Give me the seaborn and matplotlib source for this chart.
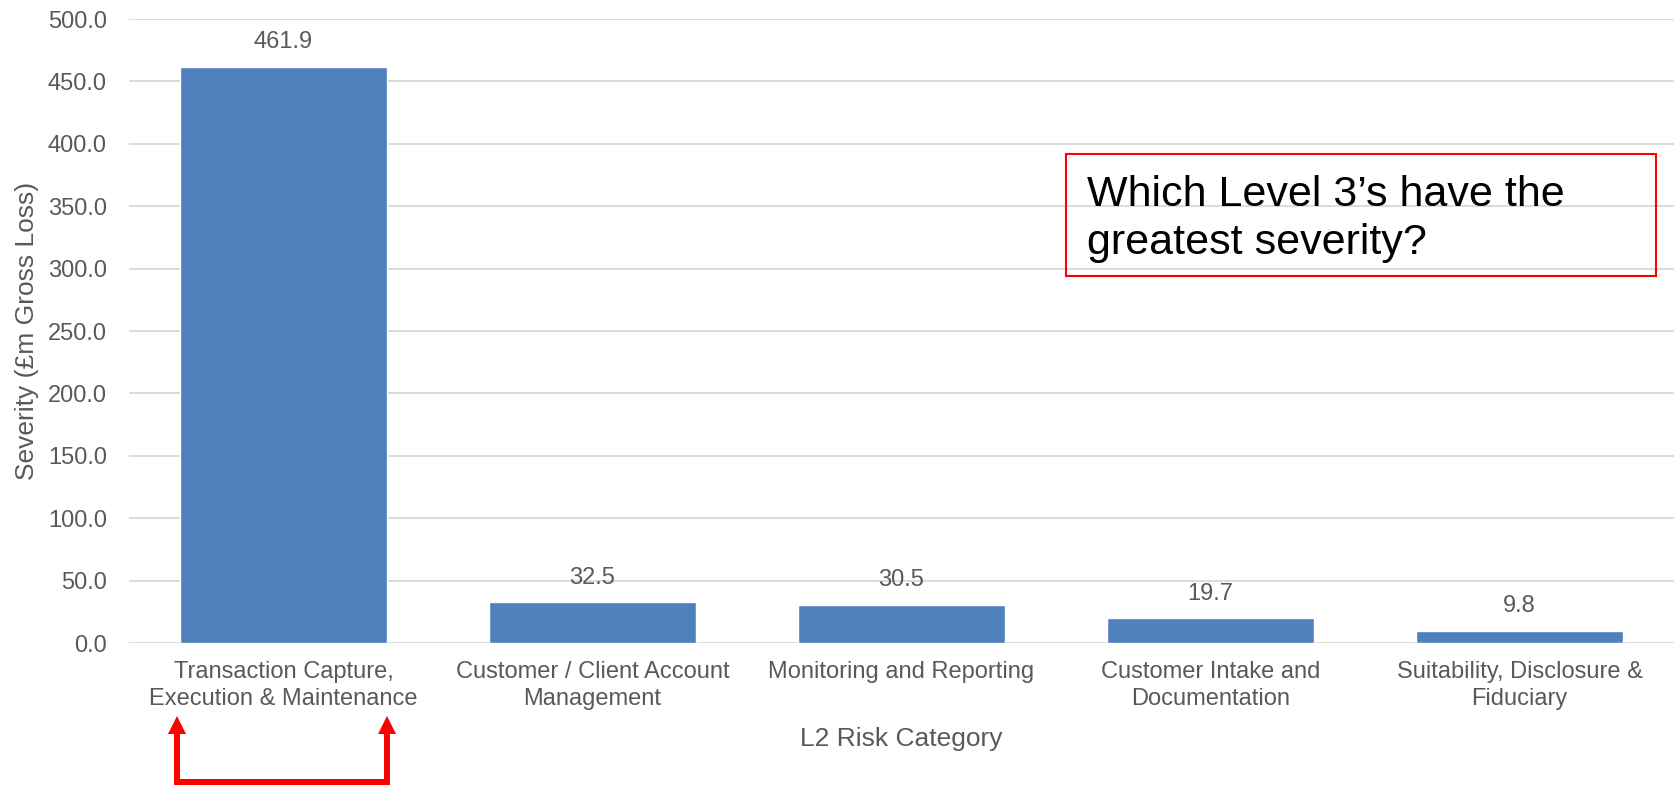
import matplotlib
matplotlib.use("Agg")
import matplotlib.pyplot as plt
import seaborn as sns
import pandas as pd
from matplotlib.patches import Rectangle, Polygon
from matplotlib.lines import Line2D

categories = [
    "Transaction Capture,\nExecution & Maintenance",
    "Customer / Client Account\nManagement",
    "Monitoring and Reporting",
    "Customer Intake and\nDocumentation",
    "Suitability, Disclosure &\nFiduciary",
]
severity = [461.9, 32.5, 30.5, 19.7, 9.8]
y_ticks = [0, 50, 100, 150, 200, 250, 300, 350, 400, 450, 500]
question_lines = ["Which Level 3\u2019s have the", "greatest severity?"]

sns.set_theme(style="white")
plt.rcParams["font.family"] = ["Liberation Sans", "DejaVu Sans"]

TEXT_GREY = "#595959"
BAR_BLUE = "#4F81BD"
RED = "#ff0000"

df = pd.DataFrame({"category": categories, "severity": severity})

W, H = 1679, 785
fig = plt.figure(figsize=(W / 100, H / 100), dpi=100)
ax = fig.add_axes([129 / W, 1 - 643 / H, (1674 - 129) / W, (643 - 19) / H])

sns.barplot(data=df, x="category", y="severity", color=BAR_BLUE,
            saturation=1, width=0.667, ax=ax, zorder=3)

ax.set_ylim(0, 500)
ax.set_yticks(y_ticks)
ax.set_yticklabels([f"{v:.1f}" for v in y_ticks])
ax.yaxis.grid(True, color="#d9d9d9", linewidth=1.3, zorder=0)
ax.set_axisbelow(True)
for s in ax.spines.values():
    s.set_visible(False)
ax.tick_params(axis="both", length=0, labelsize=17, labelcolor=TEXT_GREY)
ax.tick_params(axis="x", pad=13)
ax.tick_params(axis="y", pad=16)
for lbl in ax.get_xticklabels():
    lbl.set_linespacing(1.32)

ax.set_xlabel("L2 Risk Category", fontsize=19, color=TEXT_GREY, labelpad=12)
ax.set_ylabel("Severity (£m Gross Loss)", fontsize=19, color=TEXT_GREY, labelpad=6)

# value labels above each bar
for i, v in enumerate(severity):
    ax.annotate(f"{v:.1f}", xy=(i, v), xytext=(0, 10), textcoords="offset points",
                ha="center", va="bottom", fontsize=17, color=TEXT_GREY)

# question box
fig.add_artist(Rectangle((1066 / W, 1 - 276 / H), (1656 - 1066) / W, (276 - 154) / H,
                         transform=fig.transFigure, fill=False,
                         edgecolor=RED, linewidth=1.5))
for line, base in zip(question_lines, (206, 254)):
    fig.text(1087 / W, 1 - base / H, line, fontsize=31, color="black",
             ha="left", va="baseline")

# bracket with arrows pointing up at the first category
xl, xr = 177 / W, 387 / W
y_bot = 1 - 782 / H
y_head = 1 - 734 / H
y_tip = 1 - 716 / H
half = 9 / W
fig.add_artist(Line2D([xl, xl, xr, xr], [y_head, y_bot, y_bot, y_head],
                      transform=fig.transFigure, color=RED, linewidth=4.3,
                      solid_joinstyle="miter", solid_capstyle="butt"))
for x in (xl, xr):
    fig.add_artist(Polygon([(x - half, y_head), (x + half, y_head), (x, y_tip)],
                           closed=True, transform=fig.transFigure,
                           facecolor=RED, edgecolor="none"))

fig.savefig("out.png", dpi=100)
